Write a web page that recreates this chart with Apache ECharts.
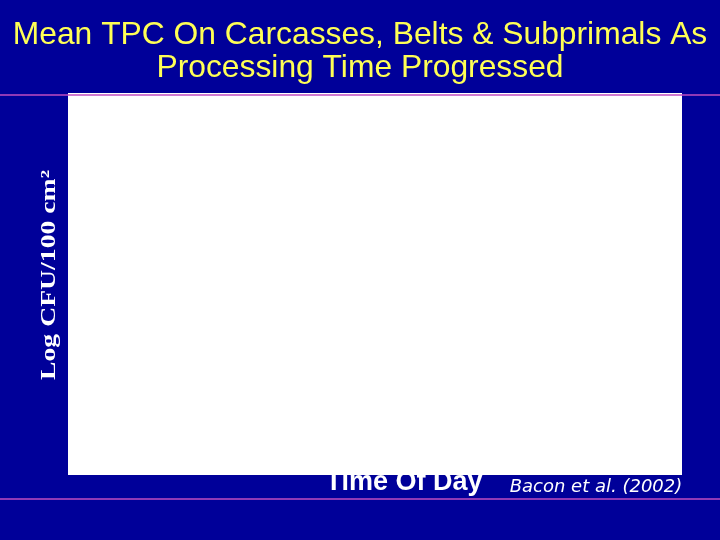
<!DOCTYPE html>
<html>
<head>
<meta charset="utf-8">
<script src="https://cdn.jsdelivr.net/npm/echarts@6/dist/echarts.min.js"></script>
<style>
html,body{margin:0;padding:0;background:#000099;}
#chart{width:720px;height:540px;}
</style>
</head>
<body>
<div id="chart"></div>
<script>
// Data (the reference plot area is empty: no visible marks)
const timeOfDay = [];
const meanTPC = [];
// Texts
const titleLines = ['Mean TPC On Carcasses, Belts & Subprimals As', 'Processing Time Progressed'];
const yAxisLabel = 'Log CFU/100 cm\u00B2';
const xAxisLabel = 'Time Of Day';
const citation = 'Bacon et al. (2002)';

const chart = echarts.init(document.getElementById('chart'));
chart.setOption({
  backgroundColor: '#000099',
  animation: false,
  grid: { left: 68, top: 93, width: 614, height: 382, show: false },
  xAxis: { type: 'category', data: timeOfDay, show: false },
  yAxis: { type: 'value', show: false },
  series: [{ type: 'line', data: meanTPC, silent: true }],
  graphic: [
    { type: 'text', x: 360, y: 35.5, z: 5, style: { text: titleLines[0], fill: '#ffff55', font: '31.8px "Liberation Sans", Arial, sans-serif', align: 'center', verticalAlign: 'middle' } },
    { type: 'text', x: 360, y: 68.5, z: 5, style: { text: titleLines[1], fill: '#ffff55', font: '31.8px "Liberation Sans", Arial, sans-serif', align: 'center', verticalAlign: 'middle' } },
    { type: 'text', x: 404, y: 483, z: 1, style: { text: xAxisLabel, fill: '#ffffff', font: 'bold 27px "Liberation Sans", Arial, sans-serif', align: 'center', verticalAlign: 'middle' } },
    { type: 'rect', z: 2, shape: { x: 68, y: 93, width: 614, height: 382 }, style: { fill: '#ffffff' } },
    { type: 'line', z: 3, shape: { x1: 0, y1: 95, x2: 720, y2: 95 }, style: { stroke: '#c04cc0', lineWidth: 1.5 } },
    { type: 'line', z: 3, shape: { x1: 0, y1: 499, x2: 720, y2: 499 }, style: { stroke: '#c04cc0', lineWidth: 1.5 } },
    { type: 'text', x: 49, y: 275, rotation: Math.PI / 2, scaleX: 1.26, z: 5, style: { text: yAxisLabel, fill: '#ffffff', font: 'bold 22px "Liberation Serif", "Times New Roman", serif', align: 'center', verticalAlign: 'middle' } },
    { type: 'text', x: 596, y: 487, z: 5, style: { text: citation, fill: '#ffffff', font: 'italic 18px "DejaVu Sans", sans-serif', align: 'center', verticalAlign: 'middle' } }
  ]
});
</script>
</body>
</html>
